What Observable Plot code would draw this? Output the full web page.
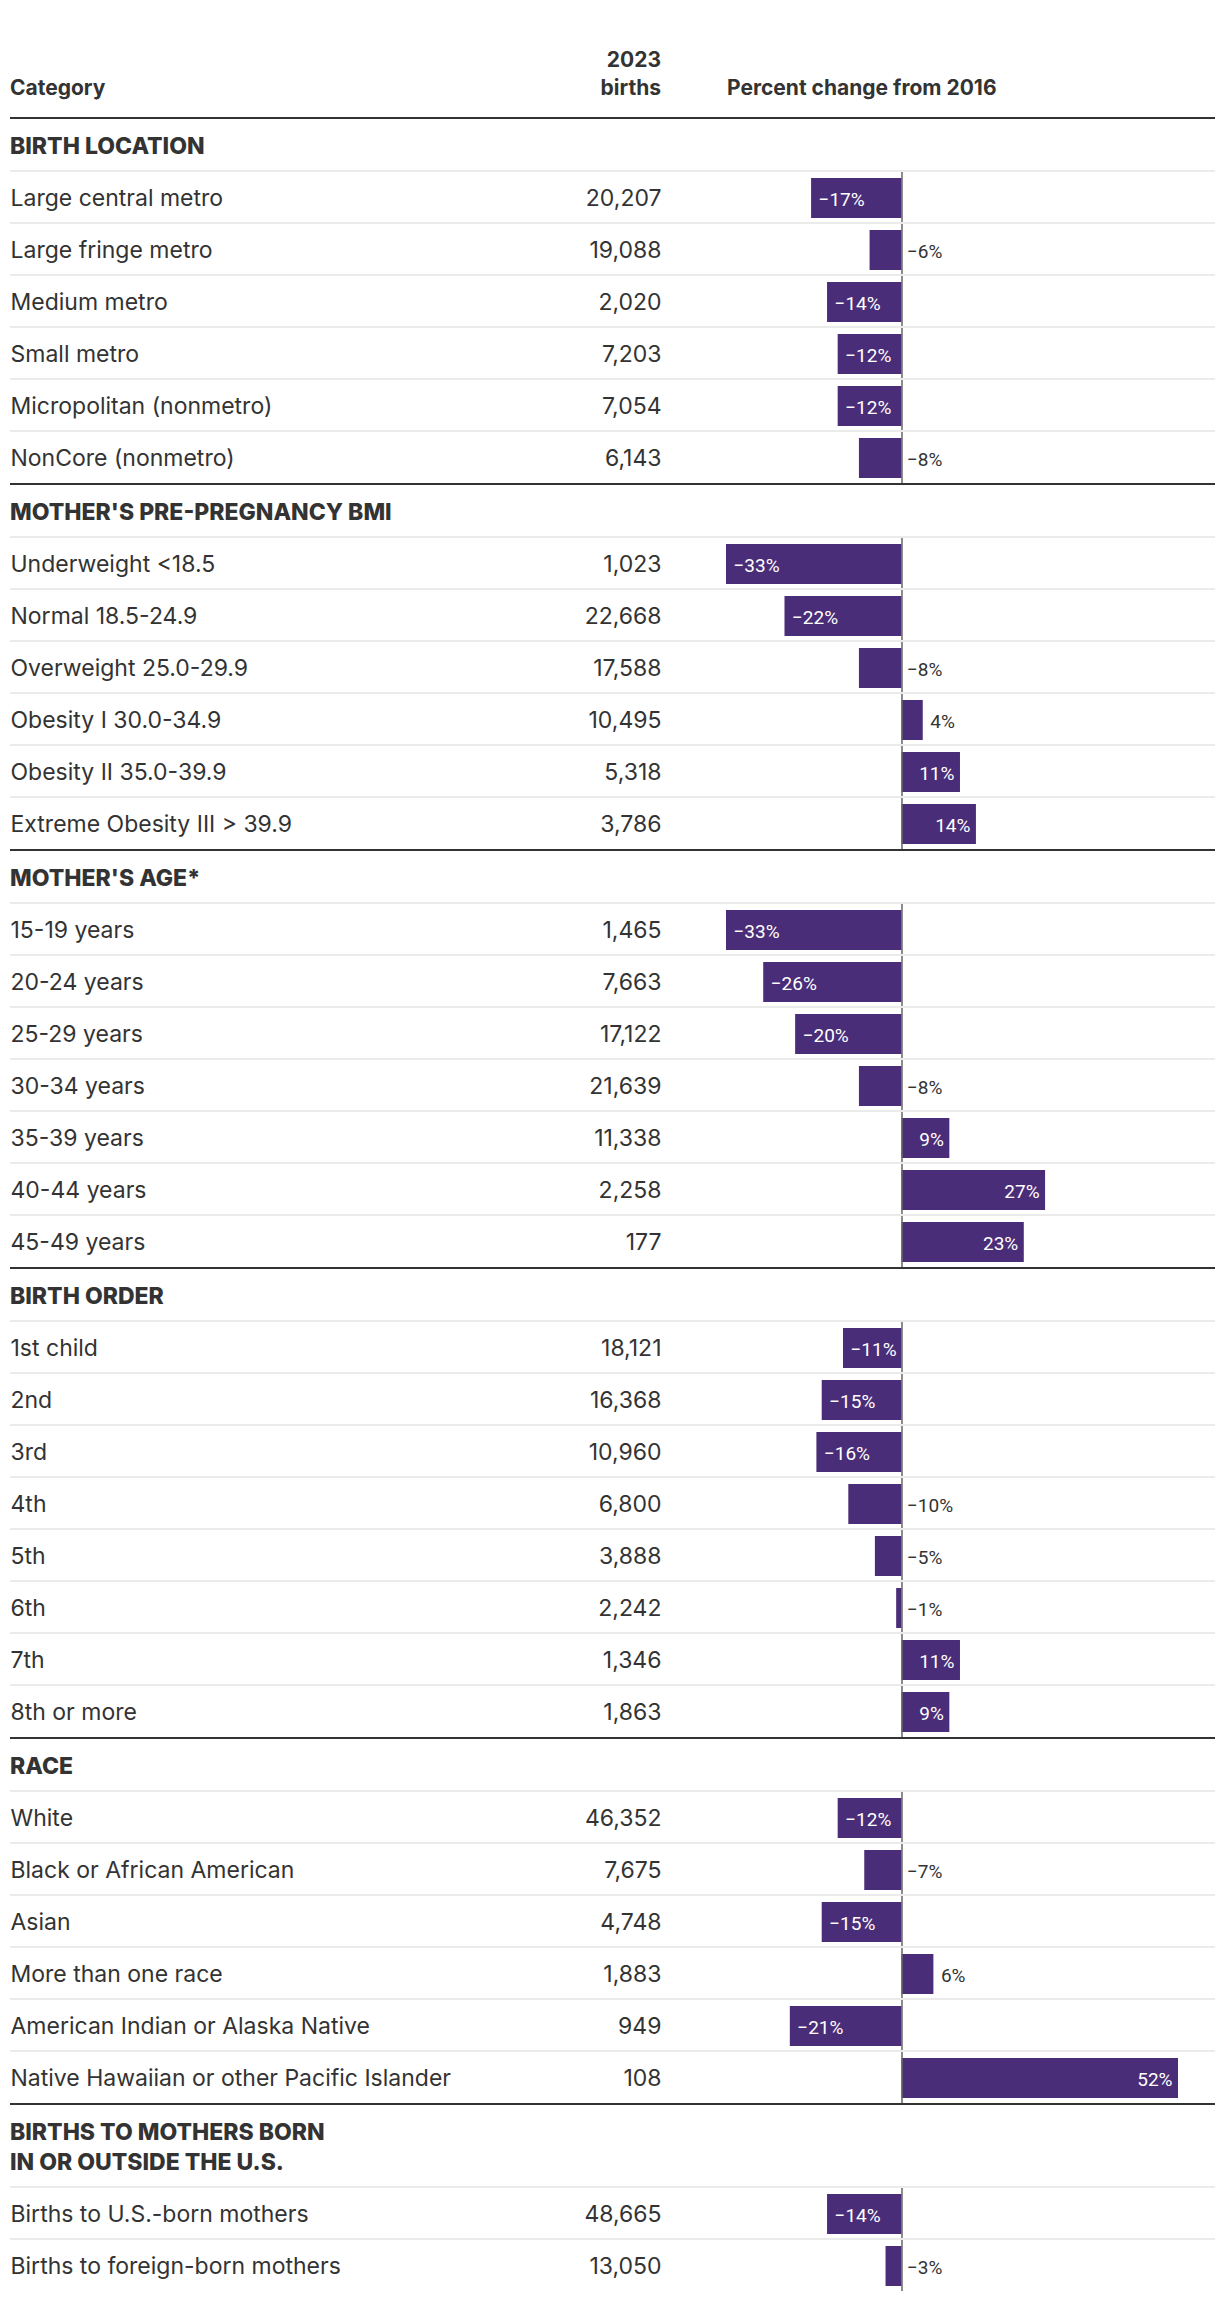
<!DOCTYPE html>
<html>
<head>
<meta charset="utf-8">
<script src="https://cdn.jsdelivr.net/npm/d3@7"></script>
<script src="https://cdn.jsdelivr.net/npm/@observablehq/plot@0.6"></script>
<style>
  body { margin: 0; background: #fff; font-family: Inter, "Noto Sans", sans-serif; color: #333; }
  #chart { width: 1220px; }
  .top { position: relative; height: 117px; font-weight: 700; font-size: 21px; line-height: 28px; }
  .top div { position: absolute; white-space: nowrap; }
  .line { height: 2px; background: #333; margin: 0 5px 0 10px; }
  .gtitle { box-sizing: border-box; height: 51px; padding: 12px 0 0 10px; font-weight: 800; font-size: 23px; line-height: 30px; white-space: pre-line; }
  .gtitle.two { height: 81px; }
  svg { display: block; }
</style>
</head>
<body>
<div id="chart">
  <div class="top">
    <div style="left:10px;top:74px">Category</div>
    <div style="right:559px;top:46px;text-align:right">2023<br>births</div>
    <div style="left:727px;top:74px">Percent change from 2016</div>
  </div>
</div>
<script>
// ---- Data ----
const groupTitles = [
  "BIRTH LOCATION",
  "MOTHER'S PRE-PREGNANCY BMI",
  "MOTHER'S AGE*",
  "BIRTH ORDER",
  "RACE",
  "BIRTHS TO MOTHERS BORN\nIN OR OUTSIDE THE U.S."
];

const locationCats = ["Large central metro", "Large fringe metro", "Medium metro", "Small metro", "Micropolitan (nonmetro)", "NonCore (nonmetro)"];
const locationBirths = [20207, 19088, 2020, 7203, 7054, 6143];
const locationChange = [-17, -6, -14, -12, -12, -8];

const bmiCats = ["Underweight <18.5", "Normal 18.5-24.9", "Overweight 25.0-29.9", "Obesity I 30.0-34.9", "Obesity II 35.0-39.9", "Extreme Obesity III > 39.9"];
const bmiBirths = [1023, 22668, 17588, 10495, 5318, 3786];
const bmiChange = [-33, -22, -8, 4, 11, 14];

const ageCats = ["15-19 years", "20-24 years", "25-29 years", "30-34 years", "35-39 years", "40-44 years", "45-49 years"];
const ageBirths = [1465, 7663, 17122, 21639, 11338, 2258, 177];
const ageChange = [-33, -26, -20, -8, 9, 27, 23];

const orderCats = ["1st child", "2nd", "3rd", "4th", "5th", "6th", "7th", "8th or more"];
const orderBirths = [18121, 16368, 10960, 6800, 3888, 2242, 1346, 1863];
const orderChange = [-11, -15, -16, -10, -5, -1, 11, 9];

const raceCats = ["White", "Black or African American", "Asian", "More than one race", "American Indian or Alaska Native", "Native Hawaiian or other Pacific Islander"];
const raceBirths = [46352, 7675, 4748, 1883, 949, 108];
const raceChange = [-12, -7, -15, 6, -21, 52];

const nativityCats = ["Births to U.S.-born mothers", "Births to foreign-born mothers"];
const nativityBirths = [48665, 13050];
const nativityChange = [-14, -3];

const groupCats = [locationCats, bmiCats, ageCats, orderCats, raceCats, nativityCats];
const groupBirths = [locationBirths, bmiBirths, ageBirths, orderBirths, raceBirths, nativityBirths];
const groupChange = [locationChange, bmiChange, ageChange, orderChange, raceChange, nativityChange];

// ---- Styling ----
const ROW = 52;
const PURPLE = "#4a2d78";
const INK = "#333";
const fmt = d3.format(",");
const pct = v => (v < 0 ? "\u2212" + Math.abs(v) : String(v)) + "%";
const xDomain = [d3.min(groupChange.flat()), d3.max(groupChange.flat())];

function groupPlot(cats, births, change) {
  const rows = cats.map((c, i) => ({cat: c, births: births[i], change: change[i]}));
  const inside = d => d.change <= -11 || d.change >= 9;
  const negIn = rows.filter(d => inside(d) && d.change < 0);
  const posIn = rows.filter(d => inside(d) && d.change > 0);
  const negOut = rows.filter(d => !inside(d) && d.change < 0);
  const posOut = rows.filter(d => !inside(d) && d.change >= 0);
  const lab = {y: "cat", text: d => pct(d.change), fontSize: 19, fontFamily: "Roboto", dy: 2.5};
  return Plot.plot({
    width: 1220,
    height: 1 + rows.length * ROW,
    marginTop: 1, marginBottom: 0, marginLeft: 10, marginRight: 5,
    x: {domain: xDomain, range: [726, 1178], axis: null},
    y: {domain: cats, padding: 0, axis: null},
    style: {fontFamily: "Inter, 'Noto Sans', sans-serif", background: "transparent", color: INK, overflow: "visible"},
    marks: [
      Plot.barX(rows, {x: "change", y: "cat", fill: PURPLE, insetTop: 7, insetBottom: 5}),
      Plot.ruleX([0], {stroke: "#666", strokeWidth: 1.5}),
      Plot.cell(rows, {y: "cat", fill: "#ebebeb", insetBottom: ROW - 2, dy: -1}),
      Plot.text(rows, {y: "cat", text: "cat", frameAnchor: "left", textAnchor: "start", fontSize: 23, fill: INK, dy: 1.5}),
      Plot.text(rows, {y: "cat", text: d => fmt(d.births), frameAnchor: "left", dx: 651, textAnchor: "end", fontSize: 23, fill: INK, dy: 1.5}),
      Plot.text(negIn, {...lab, x: "change", textAnchor: "start", dx: 7, fill: "white"}),
      Plot.text(posIn, {...lab, x: "change", textAnchor: "end", dx: -6, fill: "white"}),
      Plot.text(negOut, {...lab, x: () => 0, textAnchor: "start", dx: 5, fill: INK}),
      Plot.text(posOut, {...lab, x: "change", textAnchor: "start", dx: 7, fill: INK})
    ]
  });
}

const chart = document.getElementById("chart");
groupTitles.forEach((title, gi) => {
  const line = document.createElement("div");
  line.className = "line";
  chart.appendChild(line);
  const t = document.createElement("div");
  t.className = "gtitle" + (title.includes("\n") ? " two" : "");
  t.textContent = title;
  chart.appendChild(t);
  chart.appendChild(groupPlot(groupCats[gi], groupBirths[gi], groupChange[gi]));
});
</script>
</body>
</html>
